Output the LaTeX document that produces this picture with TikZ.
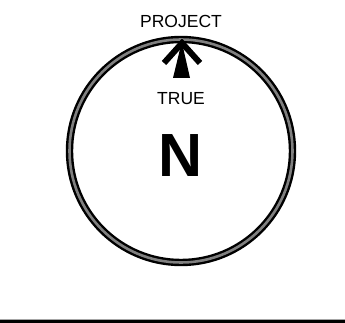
\documentclass[tikz,border=0pt]{standalone}
\usepackage{fontspec}
\setmainfont{Liberation Sans}
\usetikzlibrary{positioning}

\begin{document}
\begin{tikzpicture}[x=1bp,y=1bp]
  \tikzset{
    label text/.style={font=\fontsize{17.5bp}{20bp}\selectfont, anchor=base, inner sep=0pt},
    north letter/.style={font=\fontsize{61bp}{70bp}\selectfont\bfseries, anchor=base, inner sep=0pt},
    ring/.style={draw=black, line width=7.4bp},
    ring core/.style={draw=black!50, line width=2.6bp}
  }
  \useasboundingbox (0,0) rectangle (345,323);
  \def\cx{181}
  \def\cy{172}
  \def\rad{111.5}
  % compass ring
  \draw[ring] (\cx,\cy) circle (\rad);
  \draw[ring core] (\cx,\cy) circle (\rad);
  % north arrow
  \draw[line width=6bp, line join=miter, miter limit=10] (164,260) -- (182,280) -- (200,260);
  \fill (181,278) -- (173,245) -- (190,245) -- (182.5,278) -- cycle;
  % labels
  \node[label text] (project) at (\cx,296) {PROJECT};
  \node[label text] (true) at (\cx,219) {TRUE};
  \node[north letter] (north) at (\cx,147) {N};
  % bottom bar
  \fill[black] (0,0) rectangle (345,3.2);
  \draw[black!35, line width=0.8bp] (0,3.6) -- (345,3.6);
\end{tikzpicture}
\end{document}
